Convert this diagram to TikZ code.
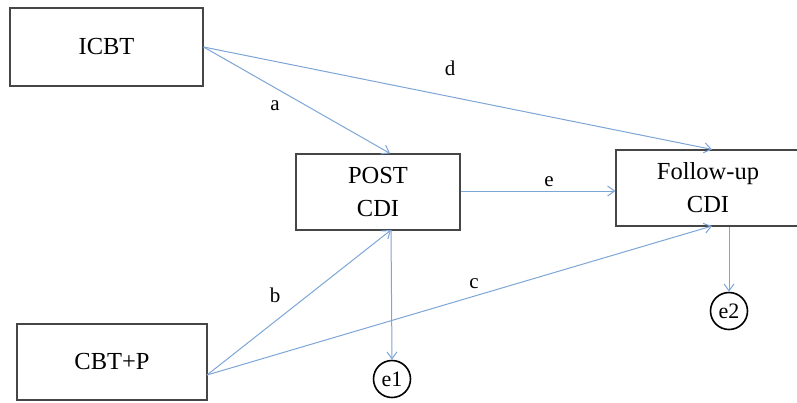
\documentclass[tikz,border=0pt]{standalone}
\usepackage{fontspec}
\setmainfont{Liberation Serif}
\usetikzlibrary{arrows.meta}
\definecolor{linkblue}{RGB}{125,165,215}
\definecolor{boxgrey}{RGB}{70,70,70}
\tikzset{
  varbox/.style={draw=boxgrey, line width=1.2pt, fill=white, align=center,
    inner sep=0pt, font=\fontsize{24.5}{33}\selectfont},
  errnode/.style={draw=black, line width=1.6pt, circle, minimum size=37pt,
    inner sep=0pt, font=\fontsize{22}{24}\selectfont},
  link/.style={draw=linkblue, line width=1pt,
    -{Straight Barb[length=7pt,width=10pt,line width=1pt]}},
  coef/.style={font=\fontsize{21}{24}\selectfont, inner sep=0pt}
}
\begin{document}
\begin{tikzpicture}[x=1pt,y=-1pt]
\useasboundingbox (0,0) rectangle (797,402);

% observed variables
\node[varbox, minimum width=193pt, minimum height=78pt] (icbt) at (106.5,47) {ICBT};
\node[varbox, minimum width=164pt, minimum height=76pt] (post) at (378,192) {POST\\CDI};
\node[varbox, minimum width=184pt, minimum height=76pt] (fu) at (708,188) {Follow-up\\CDI};
\node[varbox, minimum width=190pt, minimum height=76pt] (cbtp) at (112,362) {CBT+P};

% residual terms
\node[errnode] (e1) at (392,379) {e1};
\node[errnode] (e2) at (729,311) {e2};

% attachment points on the box edges
\coordinate (cbtout) at (207,375);
\coordinate (postbot) at (391,230);
\coordinate (fubot) at (712,226);

% regression paths
\draw[link] (icbt.east) -- ([xshift=12pt]post.north);
\node[coef] (la) at (275,106) {a};
\draw[link] (icbt.east) -- ([xshift=4pt]fu.north);
\node[coef] (ld) at (450,68) {d};
\draw[link] (post.east |- 0,191) -- (fu.west |- 0,191);
\node[coef] (le) at (549,182) {e};
\draw[link] (cbtout) -- (postbot);
\node[coef] (lb) at (275,295) {b};
\draw[link] (cbtout) -- (fubot);
\node[coef] (lc) at (474,284) {c};

% residual arrows
\draw[link] (postbot) -- (e1.north);
\draw[link] (fu.south -| e2.north) -- (e2.north);
\end{tikzpicture}
\end{document}
